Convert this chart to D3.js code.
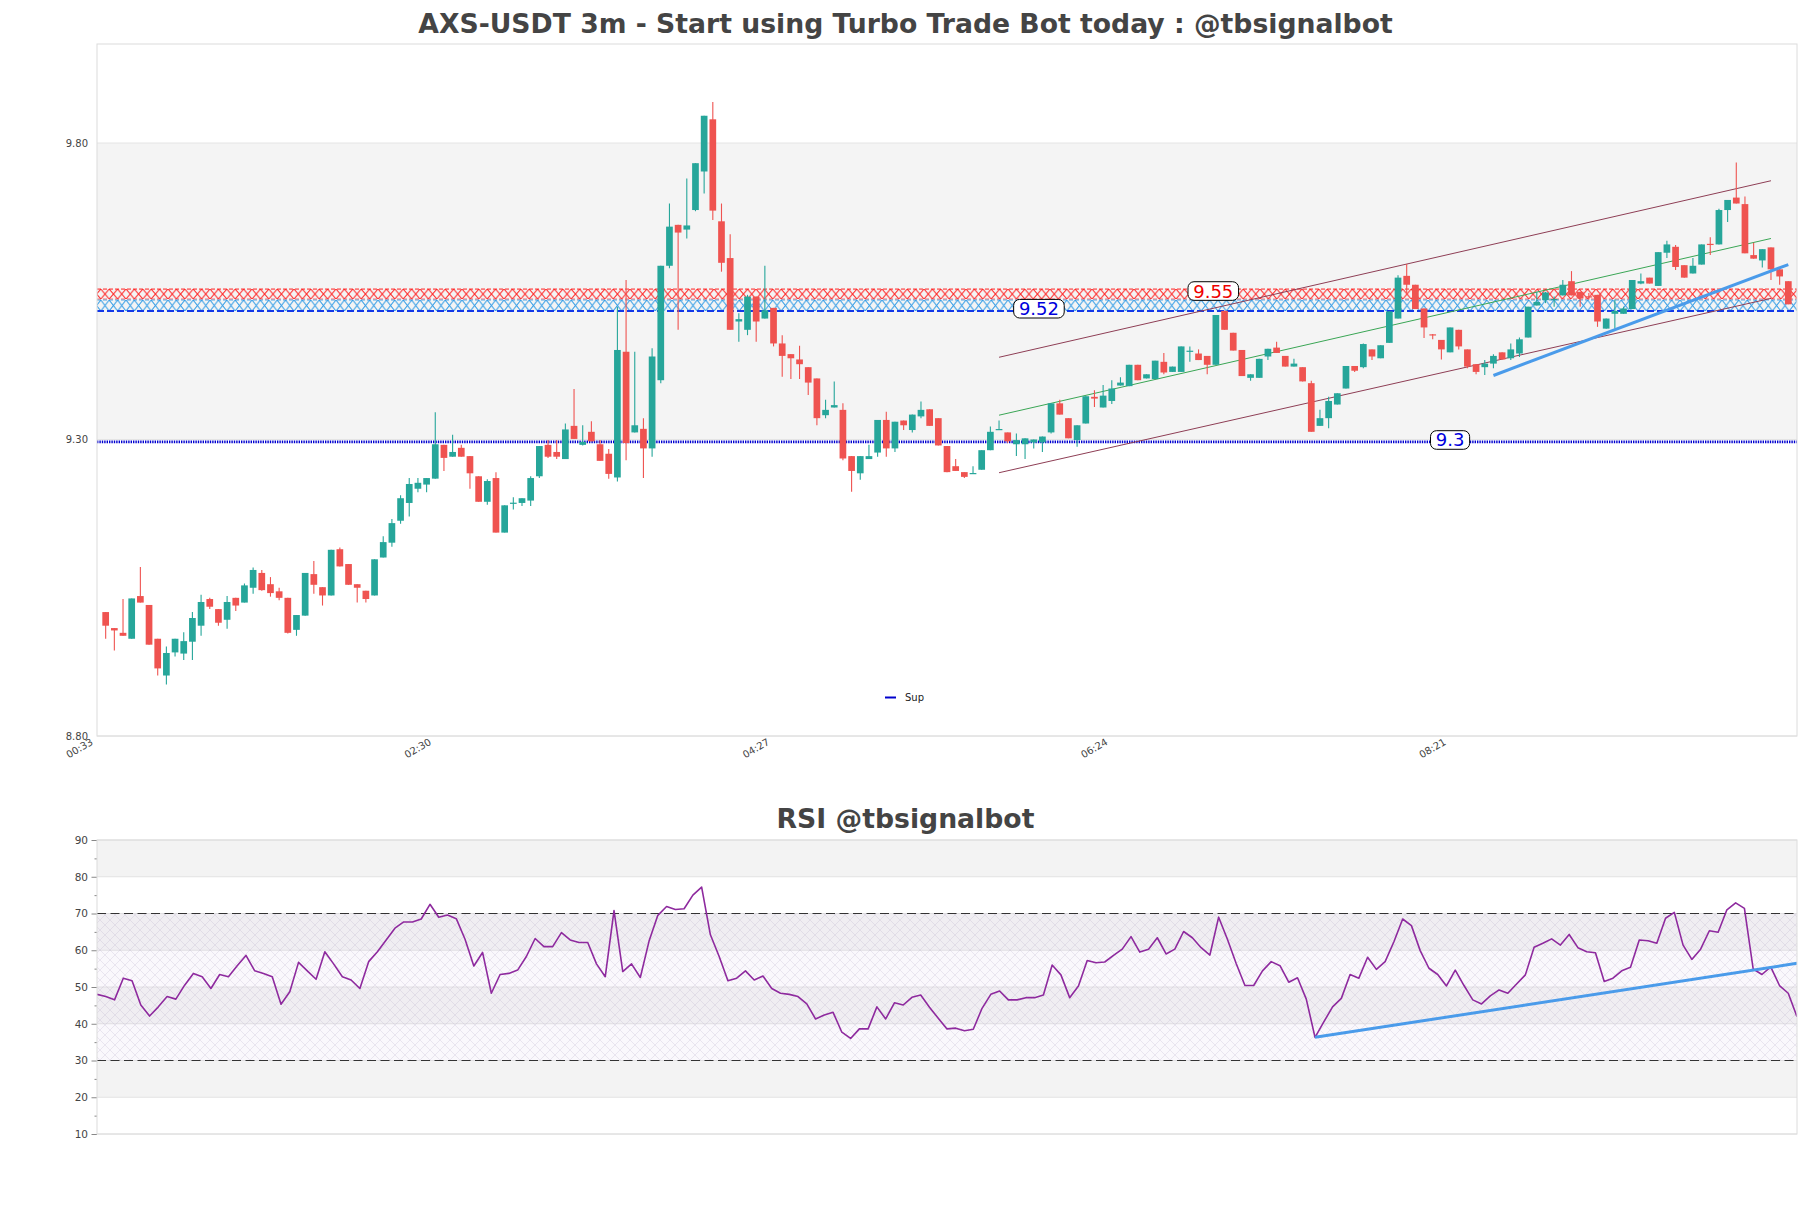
<!DOCTYPE html>
<html><head><meta charset="utf-8">
<script src="https://cdn.jsdelivr.net/npm/d3@7"></script>
<style>
body{margin:0;background:#fff;}
svg{display:block;font-family:'DejaVu Sans',sans-serif;}
</style>
</head><body>
<svg id="c" width="1811" height="1208"></svg>
<script>
// ---------------- DATA ----------------
const tickLabels = ["00:33","02:30","04:27","06:24","08:21"];
const tickIndex  = [0,39,78,117,156];

const open = [9.009,8.982,8.974,8.964,9.036,9.021,8.964,8.902,8.941,8.939,8.959,8.986,9.031,9.014,8.996,9.033,9.025,9.050,9.075,9.056,
9.044,9.033,8.979,9.003,9.073,9.051,9.037,9.115,9.090,9.056,9.045,9.037,9.101,9.126,9.163,9.193,9.217,9.224,9.234,9.291,
9.271,9.286,9.272,9.238,9.195,9.235,9.143,9.192,9.193,9.197,9.238,9.291,9.279,9.267,9.323,9.291,9.313,9.292,9.276,9.236,
9.448,9.312,9.318,9.285,9.400,9.593,9.662,9.654,9.687,9.752,9.840,9.668,9.606,9.499,9.485,9.541,9.504,9.522,9.462,9.444,
9.435,9.422,9.403,9.341,9.354,9.350,9.272,9.243,9.267,9.278,9.333,9.285,9.332,9.316,9.339,9.351,9.336,9.289,9.255,9.245,
9.242,9.249,9.282,9.3166,9.312,9.292,9.292,9.295,9.295,9.312,9.361,9.336,9.299,9.327,9.372,9.354,9.365,9.391,9.390,9.426,
9.403,9.402,9.431,9.414,9.414,9.4487,9.445,9.441,9.426,9.517,9.480,9.451,9.404,9.404,9.440,9.455,9.441,9.423,9.422,9.395,
9.323,9.336,9.359,9.386,9.424,9.422,9.452,9.437,9.463,9.504,9.576,9.561,9.521,9.4774,9.468,9.447,9.485,9.452,9.427,9.422,
9.428,9.447,9.437,9.445,9.472,9.526,9.535,9.536,9.543,9.567,9.549,9.5415,9.544,9.487,9.512,9.512,9.520,9.563,9.573,9.559,
9.615,9.625,9.594,9.580,9.595,9.630,9.629,9.687,9.708,9.697,9.611,9.602,9.624,9.587,9.567];

const high = [9.009,8.982,9.031,9.032,9.085,9.021,8.964,8.951,8.964,8.975,9.009,9.038,9.033,9.014,9.036,9.033,9.057,9.084,9.080,9.068,
9.050,9.033,9.004,9.075,9.095,9.051,9.114,9.118,9.090,9.056,9.045,9.098,9.137,9.166,9.206,9.235,9.235,9.235,9.346,9.291,
9.308,9.291,9.272,9.238,9.233,9.245,9.189,9.2025,9.201,9.238,9.289,9.299,9.299,9.327,9.385,9.324,9.331,9.299,9.284,9.524,
9.569,9.448,9.336,9.454,9.593,9.698,9.662,9.740,9.766,9.846,9.869,9.698,9.646,9.513,9.544,9.541,9.593,9.522,9.476,9.444,
9.458,9.422,9.403,9.367,9.398,9.361,9.272,9.272,9.291,9.333,9.347,9.330,9.332,9.342,9.364,9.351,9.336,9.289,9.267,9.245,
9.255,9.282,9.322,9.332,9.312,9.310,9.302,9.300,9.305,9.361,9.367,9.336,9.324,9.373,9.383,9.392,9.400,9.405,9.426,9.426,
9.410,9.433,9.446,9.423,9.457,9.457,9.452,9.441,9.510,9.517,9.480,9.451,9.410,9.436,9.453,9.465,9.441,9.436,9.422,9.399,
9.350,9.372,9.378,9.424,9.424,9.462,9.452,9.459,9.516,9.577,9.596,9.561,9.521,9.478,9.468,9.489,9.485,9.452,9.427,9.434,
9.444,9.447,9.462,9.472,9.524,9.549,9.549,9.541,9.569,9.584,9.549,9.547,9.544,9.504,9.536,9.524,9.569,9.580,9.573,9.616,
9.635,9.628,9.594,9.606,9.629,9.641,9.689,9.704,9.767,9.710,9.632,9.621,9.624,9.589,9.567];

const low = [8.964,8.944,8.969,8.964,9.025,8.954,8.902,8.887,8.934,8.928,8.928,8.969,9.014,8.986,8.981,9.011,9.025,9.040,9.045,9.035,
9.029,8.973,8.969,9.003,9.040,9.020,9.037,9.086,9.055,9.025,9.025,9.037,9.101,9.119,9.158,9.170,9.211,9.211,9.234,9.247,
9.271,9.271,9.217,9.195,9.190,9.143,9.143,9.182,9.188,9.188,9.235,9.269,9.267,9.267,9.301,9.290,9.297,9.264,9.234,9.229,
9.265,9.312,9.235,9.271,9.395,9.589,9.485,9.639,9.685,9.715,9.670,9.583,9.485,9.465,9.476,9.465,9.504,9.457,9.406,9.402,
9.402,9.375,9.324,9.336,9.354,9.265,9.212,9.232,9.267,9.271,9.271,9.279,9.316,9.312,9.336,9.323,9.290,9.245,9.247,9.235,
9.242,9.249,9.282,9.316,9.294,9.272,9.267,9.285,9.279,9.310,9.342,9.302,9.288,9.327,9.355,9.354,9.360,9.391,9.390,9.400,
9.403,9.402,9.410,9.414,9.414,9.431,9.434,9.410,9.426,9.485,9.450,9.407,9.399,9.404,9.434,9.446,9.423,9.423,9.398,9.313,
9.323,9.319,9.359,9.386,9.414,9.420,9.434,9.437,9.463,9.504,9.547,9.520,9.471,9.469,9.435,9.447,9.452,9.420,9.410,9.409,
9.420,9.435,9.434,9.439,9.472,9.526,9.530,9.524,9.543,9.543,9.524,9.536,9.490,9.487,9.487,9.512,9.520,9.562,9.563,9.559,
9.606,9.586,9.573,9.580,9.595,9.611,9.629,9.667,9.698,9.614,9.605,9.590,9.569,9.561,9.528];

const close = [8.986,8.978,8.969,9.032,9.025,8.954,8.914,8.940,8.964,8.960,8.999,9.026,9.018,8.991,9.026,9.020,9.054,9.080,9.046,9.041,
9.033,8.974,9.004,9.075,9.055,9.037,9.114,9.086,9.055,9.050,9.031,9.098,9.127,9.159,9.201,9.225,9.227,9.235,9.292,9.269,
9.279,9.271,9.243,9.195,9.230,9.143,9.189,9.1935,9.201,9.235,9.289,9.271,9.271,9.317,9.301,9.296,9.297,9.264,9.242,9.451,
9.294,9.324,9.285,9.440,9.593,9.659,9.649,9.661,9.766,9.846,9.686,9.598,9.485,9.503,9.541,9.499,9.518,9.462,9.441,9.437,
9.427,9.396,9.336,9.350,9.358,9.268,9.247,9.272,9.272,9.333,9.285,9.330,9.324,9.342,9.350,9.323,9.290,9.245,9.247,9.237,
9.2435,9.282,9.313,9.3177,9.297,9.299,9.302,9.300,9.305,9.361,9.342,9.302,9.324,9.373,9.369,9.374,9.386,9.396,9.426,9.400,
9.410,9.433,9.413,9.423,9.457,9.4498,9.434,9.426,9.510,9.485,9.450,9.407,9.410,9.436,9.453,9.446,9.423,9.428,9.398,9.313,
9.336,9.365,9.378,9.424,9.416,9.461,9.440,9.459,9.516,9.573,9.561,9.520,9.489,9.4762,9.452,9.489,9.457,9.423,9.414,9.428,
9.441,9.435,9.452,9.469,9.524,9.532,9.548,9.537,9.561,9.543,9.538,9.5403,9.499,9.504,9.517,9.521,9.569,9.567,9.563,9.616,
9.629,9.591,9.573,9.593,9.629,9.628,9.687,9.704,9.698,9.614,9.605,9.621,9.587,9.575,9.528];

const rsi = [48.0,47.4,46.5,52.4,51.7,45.1,42.1,44.6,47.4,46.7,50.5,53.7,52.8,49.6,53.4,52.8,55.8,58.6,54.4,53.7,
52.8,45.3,48.7,56.7,54.4,52.1,59.6,56.3,52.8,51.9,49.6,56.9,59.6,62.8,66.0,67.7,67.7,68.5,72.5,69.0,
69.6,68.6,63.0,55.7,59.4,48.3,53.4,53.7,54.6,58.3,63.2,61.0,61.0,64.8,62.8,62.1,62.1,56.3,52.8,70.8,
54.2,56.3,52.6,62.5,69.5,71.9,71.1,71.3,75.0,77.2,64.2,58.3,51.7,52.4,54.4,51.9,53.0,49.6,48.3,48.0,
47.4,45.4,41.3,42.4,43.1,37.7,36.0,38.6,38.6,44.6,41.3,45.7,45.1,47.2,47.8,44.5,41.5,38.6,38.8,38.1,
38.5,44.2,48.0,48.9,46.5,46.5,47.1,47.1,47.8,56.0,53.3,47.1,50.3,57.2,56.6,56.8,58.6,60.3,63.7,59.5,
60.3,63.4,59.0,60.3,65.1,63.4,60.7,58.7,69.0,63.0,56.4,50.4,50.4,54.4,56.9,55.8,51.3,52.5,46.7,36.3,
40.5,44.6,46.9,53.4,52.4,58.1,54.8,56.9,62.3,68.5,66.7,59.9,55.1,53.4,50.3,54.6,50.4,46.5,45.4,47.6,
49.2,48.3,50.8,53.3,60.8,61.9,63.1,61.4,64.3,60.7,59.6,59.3,51.5,52.4,54.4,55.4,62.8,62.6,61.9,68.7,
70.3,61.4,57.5,60.3,65.3,64.9,71.0,72.9,71.4,54.9,53.4,55.5,50.4,48.3,41.9];

const priceTicks = [8.80, 9.30, 9.80];
const rsiTicks = [10,20,30,40,50,60,70,80,90];
const rsiMinorTicks = [15,25,35,45,55,65,75,85];
const rsiBands = [[80,90],[60,70],[40,50],[20,30]];
const rsiLevels = [70,30];

const supportLevel = 9.296;
const redZone  = [9.5537, 9.5369];
const blueZone = [9.5352, 9.5167];

const channelIdx   = [103, 192];
const channelUpper = [9.4387, 9.7364];
const channelMid   = [9.341, 9.639];
const channelLower = [9.244, 9.538];

const trendIdx = [160, 194];
const trendVal = [9.408, 9.595];

const rsiTrendIdx = [139, 194];
const rsiTrendVal = [36.3, 56.45];

const levelLabels = ["9.55", "9.52", "9.3"];
const labelIdx    = [127.7, 107.6, 155];
const labelPrice  = [9.5504, 9.5206, 9.2992];
const labelColors = ["#ee0000", "#0000dd", "#0000dd"];

// ---------------- DRAW ----------------
const svg = d3.select("#c");
const X0 = 97, X1 = 1797, Y0 = 44, Y1 = 736;
const RY0 = 840, RY1 = 1134;
const up = "#26a69a", down = "#ef5350";
const FONT = "'DejaVu Sans',sans-serif";

const n = open.length;
const x = d3.scaleLinear().domain([-1, n]).range([X0, X1]);
const y = d3.scaleLinear().domain([8.8, 9.967]).range([Y1, Y0]);
const rx = d3.scaleLinear().domain([0, n - 1]).range([X0, X1]);
const ry = d3.scaleLinear().domain([10, 90]).range([RY1, RY0]);

const defs = svg.append("defs");
defs.append("clipPath").attr("id","clipMain").append("rect").attr("x",X0).attr("y",Y0).attr("width",X1-X0).attr("height",Y1-Y0);
defs.append("clipPath").attr("id","clipRsi").append("rect").attr("x",X0).attr("y",RY0).attr("width",X1-X0).attr("height",RY1-RY0);

function xPattern(id, top, h, color, w) {
  const p = defs.append("pattern").attr("id", id).attr("patternUnits","userSpaceOnUse")
    .attr("x", 0).attr("y", top).attr("width", w).attr("height", h);
  p.append("line").attr("x1",0).attr("y1",0).attr("x2",w).attr("y2",h).attr("stroke",color).attr("stroke-width",1);
  p.append("line").attr("x1",w).attr("y1",0).attr("x2",0).attr("y2",h).attr("stroke",color).attr("stroke-width",1);
}
const rzTop = y(redZone[0]), rzBot = y(redZone[1]);
const bzTop = y(blueZone[0]), bzBot = y(blueZone[1]);
xPattern("hatchRed", rzTop, rzBot - rzTop, "#ff2020", 8.4);
xPattern("hatchBlue", bzTop, bzBot - bzTop, "#2f9be6", 8.4);

const rp = defs.append("pattern").attr("id","rsiHatch").attr("patternUnits","userSpaceOnUse")
  .attr("x",0).attr("y",0).attr("width",10).attr("height",10);
rp.append("rect").attr("width",10).attr("height",10).attr("fill","rgba(215,200,235,0.13)");
rp.append("path").attr("d","M0,0L10,10M10,0L0,10").attr("stroke","rgba(160,150,185,0.32)").attr("stroke-width",0.6);

// ---- Titles ----
function fitText(sel, target) {
  const len = sel.node().getComputedTextLength();
  const fs = parseFloat(sel.attr("font-size"));
  sel.attr("font-size", fs * target / len);
}
const t1 = svg.append("text").attr("x", 905.5).attr("y", 32.5).attr("text-anchor","middle")
  .attr("font-size", 24).attr("font-weight","bold").attr("fill","#444")
  .text("AXS-USDT 3m - Start using Turbo Trade Bot today : @tbsignalbot");
fitText(t1, 975);
const t2 = svg.append("text").attr("x", 905.5).attr("y", 828).attr("text-anchor","middle")
  .attr("font-size", 22).attr("font-weight","bold").attr("fill","#444")
  .text("RSI @tbsignalbot");
fitText(t2, 258);

// ---- Main chart ----
const gm = svg.append("g");
gm.append("rect").attr("x",X0).attr("y",y(9.80)).attr("width",X1-X0).attr("height",y(9.30)-y(9.80)).attr("fill","#f4f4f4");
gm.selectAll("line.grid").data(priceTicks).join("line").attr("class","grid")
  .attr("x1",X0).attr("x2",X1).attr("y1",d=>y(d)).attr("y2",d=>y(d)).attr("stroke","#e4e4e4");

const ya = d3.axisLeft(y).tickValues(priceTicks).tickFormat(d3.format(".2f")).tickSize(0).tickPadding(9);
const yag = gm.append("g").attr("transform",`translate(${X0},0)`).call(ya);
yag.select(".domain").remove();
yag.selectAll("text").attr("font-size",10).attr("fill","#444").attr("font-family",FONT);

const clipG = gm.append("g").attr("clip-path","url(#clipMain)");

// zones
clipG.append("rect").attr("x",X0).attr("y",rzTop).attr("width",X1-X0).attr("height",rzBot-rzTop).attr("fill","url(#hatchRed)");
clipG.append("rect").attr("x",X0).attr("y",bzTop).attr("width",X1-X0).attr("height",bzBot-bzTop).attr("fill","url(#hatchBlue)");
[[rzTop,"#ff2020",1,"4,2"],[rzBot,"#ff4040",0.8,"4,2"],[bzTop,"#2f9be6",0.8,"4,2"],[bzBot,"#1238e8",2,"7,3"]].forEach(d=>{
  clipG.append("line").attr("x1",X0).attr("x2",X1).attr("y1",d[0]).attr("y2",d[0])
    .attr("stroke",d[1]).attr("stroke-width",d[2]).attr("stroke-dasharray",d[3]);
});

// support line
clipG.append("line").attr("x1",X0).attr("x2",X1).attr("y1",y(supportLevel)).attr("y2",y(supportLevel))
  .attr("stroke","#0000d0").attr("stroke-width",2.8).attr("stroke-dasharray","1.4,1");

// channel
[[channelUpper,"#8e3e55"],[channelMid,"#3aa655"],[channelLower,"#8e3e55"]].forEach(([v,c])=>{
  clipG.append("line").attr("x1",x(channelIdx[0])).attr("x2",x(channelIdx[1]))
    .attr("y1",y(v[0])).attr("y2",y(v[1])).attr("stroke",c).attr("stroke-width",1);
});

// candles
const idx = d3.range(n);
const bw = 6.7;
clipG.selectAll("line.wick").data(idx).join("line").attr("class","wick")
  .attr("x1",i=>x(i)).attr("x2",i=>x(i)).attr("y1",i=>y(high[i])).attr("y2",i=>y(low[i]))
  .attr("stroke",i=>close[i]>=open[i]?up:down).attr("stroke-width",1.1);
clipG.selectAll("rect.body").data(idx).join("rect").attr("class","body")
  .attr("x",i=>x(i)-bw/2).attr("width",bw)
  .attr("y",i=>y(Math.max(open[i],close[i])))
  .attr("height",i=>Math.max(1.2, Math.abs(y(open[i])-y(close[i]))))
  .attr("fill",i=>close[i]>=open[i]?up:down);

// trend line
clipG.append("line").attr("x1",x(trendIdx[0])).attr("x2",x(trendIdx[1]))
  .attr("y1",y(trendVal[0])).attr("y2",y(trendVal[1])).attr("stroke","#4a9bea").attr("stroke-width",3);

// level labels
levelLabels.forEach((t,k)=>{
  const cx = x(labelIdx[k]), cy = y(labelPrice[k]);
  const g = gm.append("g");
  const tx = g.append("text").attr("x",cx).attr("y",cy).attr("dy","0.36em").attr("text-anchor","middle")
    .attr("font-family",FONT).attr("font-size",18).attr("fill",labelColors[k]).text(t);
  const w = tx.node().getComputedTextLength() + 10.5;
  g.insert("rect","text").attr("x",cx-w/2).attr("y",cy-9.3).attr("width",w).attr("height",18.6)
    .attr("rx",6).attr("fill","#fff").attr("stroke","#000").attr("stroke-width",1);
});

// border
gm.append("rect").attr("x",X0).attr("y",Y0).attr("width",X1-X0).attr("height",Y1-Y0)
  .attr("fill","none").attr("stroke","#dcdcdc");

// x tick labels
gm.selectAll("text.xt").data(tickIndex).join("text").attr("class","xt")
  .attr("transform",(d)=>`translate(${x(d)-12},744) rotate(-30)`)
  .attr("text-anchor","end").attr("font-size",10).attr("fill","#444").text((d,k)=>tickLabels[k]);

// legend
gm.append("line").attr("x1",885).attr("x2",896).attr("y1",697.5).attr("y2",697.5).attr("stroke","#0000cc").attr("stroke-width",2);
gm.append("text").attr("x",905).attr("y",697).attr("dy","0.35em").attr("font-size",10).attr("fill","#222").text("Sup");

// ---- RSI chart ----
const gr = svg.append("g");
rsiBands.forEach(b=>{
  gr.append("rect").attr("x",X0).attr("y",ry(b[1])).attr("width",X1-X0).attr("height",ry(b[0])-ry(b[1])).attr("fill","#f3f3f3");
});
gr.selectAll("line.rg").data(rsiTicks).join("line").attr("class","rg")
  .attr("x1",X0).attr("x2",X1).attr("y1",d=>ry(d)).attr("y2",d=>ry(d)).attr("stroke","#e2e2e2");
gr.append("rect").attr("x",X0).attr("y",ry(70)).attr("width",X1-X0).attr("height",ry(30)-ry(70)).attr("fill","url(#rsiHatch)");
rsiLevels.forEach(l=>{
  gr.append("line").attr("x1",X0).attr("x2",X1).attr("y1",ry(l)).attr("y2",ry(l))
    .attr("stroke","#333").attr("stroke-width",1.2).attr("stroke-dasharray","9,4.5");
});
const ra = d3.axisLeft(ry).tickValues(rsiTicks).tickSize(5.5).tickPadding(3.5);
const rag = gr.append("g").attr("transform",`translate(${X0},0)`).call(ra);
rag.select(".domain").remove();
rag.selectAll("line").attr("stroke","#888");
rag.selectAll("text").attr("font-size",10.5).attr("fill","#444").attr("font-family",FONT);
const rma = d3.axisLeft(ry).tickValues(rsiMinorTicks).tickSize(2.5).tickFormat("");
const rmag = gr.append("g").attr("transform",`translate(${X0},0)`).call(rma);
rmag.select(".domain").remove();
rmag.selectAll("line").attr("stroke","#888");

const rclip = gr.append("g").attr("clip-path","url(#clipRsi)");
rclip.append("path").datum(rsi).attr("fill","none").attr("stroke","#8e2a9e").attr("stroke-width",1.6)
  .attr("stroke-linejoin","round")
  .attr("d", d3.line().x((d,i)=>rx(i)).y(d=>ry(d)));
rclip.append("line").attr("x1",rx(rsiTrendIdx[0])).attr("x2",rx(rsiTrendIdx[1]))
  .attr("y1",ry(rsiTrendVal[0])).attr("y2",ry(rsiTrendVal[1])).attr("stroke","#4a9bea").attr("stroke-width",3);

gr.append("rect").attr("x",X0).attr("y",RY0).attr("width",X1-X0).attr("height",RY1-RY0)
  .attr("fill","none").attr("stroke","#dcdcdc");
</script>
</body></html>
